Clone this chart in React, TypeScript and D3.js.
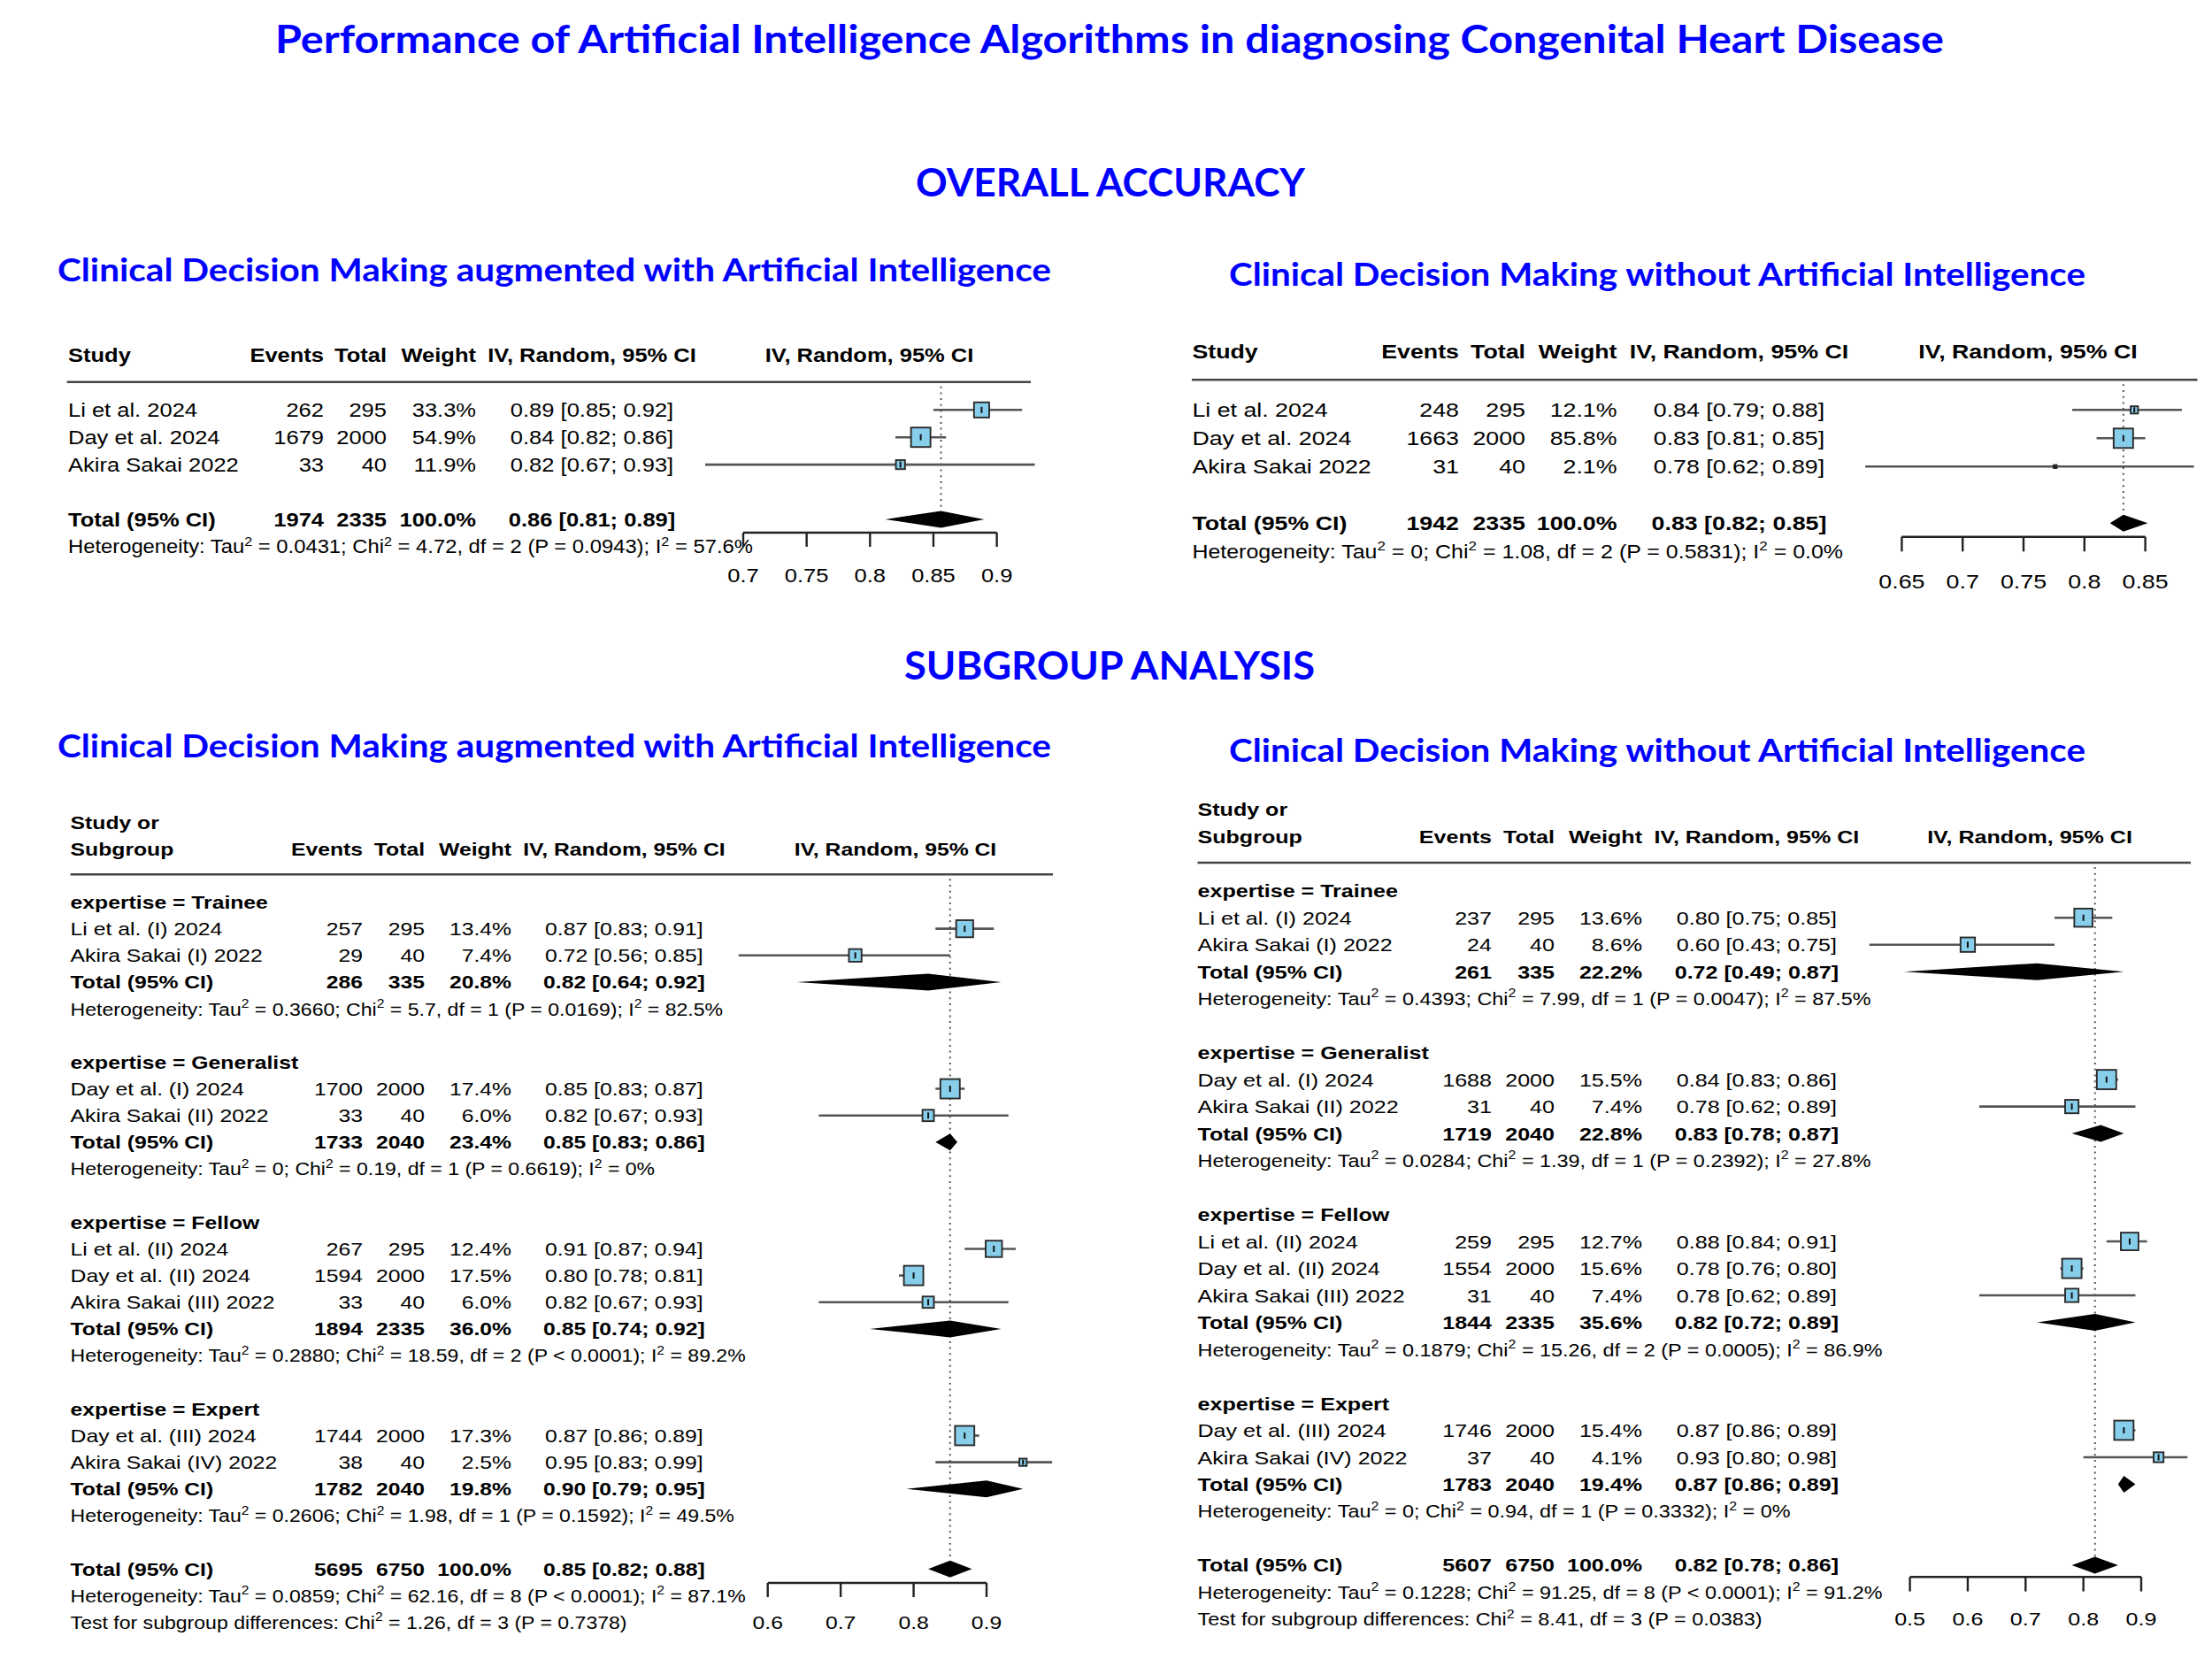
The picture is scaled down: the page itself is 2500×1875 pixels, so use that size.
import React from 'react';
import * as d3 from 'd3';

const W = 2500;
const H = 1875;
const BLUE = '#0000FF';
const TABLE_FONT = '"Liberation Sans", Arial, Helvetica, sans-serif';
const TITLE_FONT = 'Lato, "Open Sans", sans-serif';
const SX = 1.2; // the R plots were pasted in horizontally stretched
const SX_HET = 1.12; // heterogeneity lines come out a little narrower

// ---------- overall accuracy: with AI (A) and without AI (B)
const overallStudies = ['Li et al. 2024', 'Day et al. 2024', 'Akira Sakai 2022'];
const aEvents = [262, 1679, 33];
const aTotal = [295, 2000, 40];
const aWeight = [33.3, 54.9, 11.9];
const aEst = [0.888, 0.84, 0.824];
const aLo = [0.85, 0.82, 0.67];
const aHi = [0.92, 0.86, 0.93];

const bEvents = [248, 1663, 31];
const bTotal = [295, 2000, 40];
const bWeight = [12.1, 85.8, 2.1];
const bEst = [0.841, 0.832, 0.776];
const bLo = [0.79, 0.81, 0.62];
const bHi = [0.88, 0.85, 0.89];

// ---------- subgroup analysis: with AI (C) and without AI (D)
const expertise = ['Trainee', 'Generalist', 'Fellow', 'Expert'];
const subStudies = [
  'Li et al. (I) 2024', 'Akira Sakai (I) 2022',
  'Day et al. (I) 2024', 'Akira Sakai (II) 2022',
  'Li et al. (II) 2024', 'Day et al. (II) 2024', 'Akira Sakai (III) 2022',
  'Day et al. (III) 2024', 'Akira Sakai (IV) 2022',
];
const subGroupOf = [0, 0, 1, 1, 2, 2, 2, 3, 3];

const cEvents = [257, 29, 1700, 33, 267, 1594, 33, 1744, 38];
const cTotal = [295, 40, 2000, 40, 295, 2000, 40, 2000, 40];
const cWeight = [13.4, 7.4, 17.4, 6.0, 12.4, 17.5, 6.0, 17.3, 2.5];
const cEst = [0.87, 0.72, 0.85, 0.82, 0.91, 0.8, 0.82, 0.87, 0.95];
const cLo = [0.83, 0.56, 0.83, 0.67, 0.87, 0.78, 0.67, 0.86, 0.83];
const cHi = [0.91, 0.85, 0.87, 0.93, 0.94, 0.81, 0.93, 0.89, 0.99];
const cGrpEvents = [286, 1733, 1894, 1782];
const cGrpTotal = [335, 2040, 2335, 2040];
const cGrpWeight = [20.8, 23.4, 36.0, 19.8];
const cGrpEst = [0.82, 0.85, 0.85, 0.9];
const cGrpLo = [0.64, 0.83, 0.74, 0.79];
const cGrpHi = [0.92, 0.86, 0.92, 0.95];
const cGrpTau = ['0.3660', '0', '0.2880', '0.2606'];
const cGrpChi = ['5.7', '0.19', '18.59', '1.98'];
const cGrpDf = [1, 1, 2, 1];
const cGrpP = ['= 0.0169', '= 0.6619', '< 0.0001', '= 0.1592'];
const cGrpI2 = ['82.5%', '0%', '89.2%', '49.5%'];

const dEvents = [237, 24, 1688, 31, 259, 1554, 31, 1746, 37];
const dTotal = [295, 40, 2000, 40, 295, 2000, 40, 2000, 40];
const dWeight = [13.6, 8.6, 15.5, 7.4, 12.7, 15.6, 7.4, 15.4, 4.1];
const dEst = [0.8, 0.6, 0.84, 0.78, 0.88, 0.78, 0.78, 0.87, 0.93];
const dLo = [0.75, 0.43, 0.83, 0.62, 0.84, 0.76, 0.62, 0.86, 0.8];
const dHi = [0.85, 0.75, 0.86, 0.89, 0.91, 0.8, 0.89, 0.89, 0.98];
const dGrpEvents = [261, 1719, 1844, 1783];
const dGrpTotal = [335, 2040, 2335, 2040];
const dGrpWeight = [22.2, 22.8, 35.6, 19.4];
const dGrpEst = [0.72, 0.83, 0.82, 0.87];
const dGrpLo = [0.49, 0.78, 0.72, 0.86];
const dGrpHi = [0.87, 0.87, 0.89, 0.89];
const dGrpTau = ['0.4393', '0.0284', '0.1879', '0'];
const dGrpChi = ['7.99', '1.39', '15.26', '0.94'];
const dGrpDf = [1, 1, 2, 1];
const dGrpP = ['= 0.0047', '= 0.2392', '= 0.0005', '= 0.3332'];
const dGrpI2 = ['87.5%', '27.8%', '86.9%', '0%'];

// ---------- pooled results, panels A, B, C, D
const pooledEvents = [1974, 1942, 5695, 5607];
const pooledTotal = [2335, 2335, 6750, 6750];
const pooledEst = [0.856, 0.832, 0.85, 0.82];
const pooledLo = [0.812, 0.821, 0.82, 0.78];
const pooledHi = [0.89, 0.852, 0.88, 0.86];
const pooledTau = ['0.0431', '0', '0.0859', '0.1228'];
const pooledChi = ['4.72', '1.08', '62.16', '91.25'];
const pooledDf = [2, 2, 8, 8];
const pooledP = ['= 0.0943', '= 0.5831', '< 0.0001', '< 0.0001'];
const pooledI2 = ['57.6%', '0.0%', '87.1%', '91.2%'];
// test for subgroup differences, panels C, D
const diffChi = ['1.26', '8.41'];
const diffDf = [3, 3];
const diffP = ['0.7378', '0.0383'];

const ticksA = [0.7, 0.75, 0.8, 0.85, 0.9];
const ticksB = [0.65, 0.7, 0.75, 0.8, 0.85];
const ticksC = [0.6, 0.7, 0.8, 0.9];
const ticksD = [0.5, 0.6, 0.7, 0.8, 0.9];

// ---------- layout of each panel (pixels)
const layoutA = {
  fs: 21.25, studyX: 77, eventsX: 366, totalX: 437, weightX: 538, ciX: 669, plotHeadX: 982.5,
  headY: [401], lineY: 431.7, lineX: [75.6, 1165], rowY0: 463.3, rowH: 30.9,
  xDomain: [0.7, 0.9], xRange: [840, 1126.6], axisY: 602, tickLen: 16, tickLabelY: 650,
};
const layoutB = {
  fs: 22.3, studyX: 1347.4, eventsX: 1649, totalX: 1724, weightX: 1827.5, ciX: 1965.5, plotHeadX: 2292,
  headY: [397], lineY: 429.3, lineX: [1347, 2483.5], rowY0: 463.3, rowH: 32,
  xDomain: [0.65, 0.85], xRange: [2149.4, 2424.6], axisY: 606.7, tickLen: 16.6, tickLabelY: 656.7,
};
const layoutC = {
  fs: 20.6, studyX: 79.6, eventsX: 410, totalX: 480, weightX: 578, ciX: 705.4, plotHeadX: 1012,
  headY: [929.3, 959.3], lineY: 988.3, lineX: [79.6, 1190], rowY0: 1019.5, rowH: 30.15,
  xDomain: [0.6, 0.9], xRange: [867.7, 1115], axisY: 1789, tickLen: 16, tickLabelY: 1834,
};
const layoutD = {
  fs: 20.9, studyX: 1353.5, eventsX: 1686, totalX: 1757, weightX: 1856, ciX: 1985.4, plotHeadX: 2294,
  headY: [914, 945], lineY: 975, lineX: [1353.5, 2476], rowY0: 1006.7, rowH: 30.49,
  xDomain: [0.5, 0.9], xRange: [2158.6, 2420], axisY: 1782.3, tickLen: 16.3, tickLabelY: 1829.8,
};

type Layout = typeof layoutA;
type Part = string | { sup: string };
type Row = {
  kind: 'study' | 'total' | 'group' | 'het' | 'test';
  r: number;
  label?: string;
  events?: number;
  total?: number;
  weight?: number;
  est?: number;
  lo?: number;
  hi?: number;
  parts?: Part[];
};

const hetParts = (tau: string, chi: string, df: number, p: string, i2: string): Part[] => [
  'Heterogeneity: Tau', { sup: '2' }, ` = ${tau}; Chi`, { sup: '2' },
  ` = ${chi}, df = ${df} (P ${p}); I`, { sup: '2' }, ` = ${i2}`,
];

function overallRows(p: number, ev: number[], tot: number[], wt: number[], est: number[], lo: number[], hi: number[]): Row[] {
  const rows: Row[] = overallStudies.map((s, i) => ({
    kind: 'study', r: i, label: s, events: ev[i], total: tot[i], weight: wt[i], est: est[i], lo: lo[i], hi: hi[i],
  }));
  rows.push({
    kind: 'total', r: 4, label: 'Total (95% CI)', events: pooledEvents[p], total: pooledTotal[p], weight: 100,
    est: pooledEst[p], lo: pooledLo[p], hi: pooledHi[p],
  });
  rows.push({ kind: 'het', r: 5, parts: hetParts(pooledTau[p], pooledChi[p], pooledDf[p], pooledP[p], pooledI2[p]) });
  return rows;
}

function subgroupRows(
  p: number, ev: number[], tot: number[], wt: number[], est: number[], lo: number[], hi: number[],
  gEv: number[], gTot: number[], gWt: number[], gEst: number[], gLo: number[], gHi: number[],
  gTau: string[], gChi: string[], gDf: number[], gP: string[], gI2: string[],
): Row[] {
  const rows: Row[] = [];
  let r = 0;
  expertise.forEach((g, gi) => {
    rows.push({ kind: 'group', r, label: `expertise = ${g}` });
    r += 1;
    subStudies.forEach((s, i) => {
      if (subGroupOf[i] !== gi) return;
      rows.push({ kind: 'study', r, label: s, events: ev[i], total: tot[i], weight: wt[i], est: est[i], lo: lo[i], hi: hi[i] });
      r += 1;
    });
    rows.push({ kind: 'total', r, label: 'Total (95% CI)', events: gEv[gi], total: gTot[gi], weight: gWt[gi], est: gEst[gi], lo: gLo[gi], hi: gHi[gi] });
    rows.push({ kind: 'het', r: r + 1, parts: hetParts(gTau[gi], gChi[gi], gDf[gi], gP[gi], gI2[gi]) });
    r += 3;
  });
  rows.push({
    kind: 'total', r, label: 'Total (95% CI)', events: pooledEvents[p], total: pooledTotal[p], weight: 100,
    est: pooledEst[p], lo: pooledLo[p], hi: pooledHi[p],
  });
  rows.push({ kind: 'het', r: r + 1, parts: hetParts(pooledTau[p], pooledChi[p], pooledDf[p], pooledP[p], pooledI2[p]) });
  const t = p - 2;
  rows.push({
    kind: 'test', r: r + 2,
    parts: ['Test for subgroup differences: Chi', { sup: '2' }, ` = ${diffChi[t]}, df = ${diffDf[t]} (P = ${diffP[t]})`],
  });
  return rows;
}

const T: React.FC<{ x: number; y: number; fs: number; anchor?: string; bold?: boolean; sx?: number; children: React.ReactNode }> = ({
  x, y, fs, anchor = 'start', bold = false, sx = SX, children,
}) => (
  <g transform={`translate(${x},${y + fs * 0.36}) scale(${sx},1)`}>
    <text
      fontSize={fs}
      fontFamily={TABLE_FONT}
      fontWeight={bold ? 'bold' : 'normal'}
      textAnchor={anchor}
      fill="#000"
    >
      {children}
    </text>
  </g>
);

function renderParts(parts: Part[], fs: number) {
  const lift = fs * 0.42;
  return parts.map((pt, i) => {
    if (typeof pt === 'string') {
      const prevSup = i > 0 && typeof parts[i - 1] !== 'string';
      return <tspan key={i} dy={prevSup ? lift : undefined}>{pt}</tspan>;
    }
    return <tspan key={i} dy={-lift} fontSize={fs * 0.68}>{pt.sup}</tspan>;
  });
}

const ForestPanel: React.FC<{ L: Layout; rows: Row[]; ticks: number[]; refVal: number; subgroup?: boolean }> = ({
  L, rows, ticks, refVal, subgroup = false,
}) => {
  const x = d3.scaleLinear().domain(L.xDomain).range(L.xRange);
  const studyRows = rows.filter((r) => r.kind === 'study');
  const maxW = d3.max(studyRows, (r) => r.weight as number) as number;
  const side = d3.scaleSqrt().domain([0, maxW]).range([0, 22]);
  const yOf = (r: number) => L.rowY0 + r * L.rowH;
  const fs = L.fs;
  const lastTotal = rows.filter((r) => r.kind === 'total').slice(-1)[0];
  const diamondH = 9.5;
  const line = d3.line();

  const headY = L.headY[L.headY.length - 1];
  return (
    <g>
      {/* header */}
      {subgroup ? (
        <>
          <T x={L.studyX} y={L.headY[0]} fs={fs} bold>Study or</T>
          <T x={L.studyX} y={headY} fs={fs} bold>Subgroup</T>
        </>
      ) : (
        <T x={L.studyX} y={headY} fs={fs} bold>Study</T>
      )}
      <T x={L.eventsX} y={headY} fs={fs} anchor="end" bold>Events</T>
      <T x={L.totalX} y={headY} fs={fs} anchor="end" bold>Total</T>
      <T x={L.weightX} y={headY} fs={fs} anchor="end" bold>Weight</T>
      <T x={L.ciX} y={headY} fs={fs} anchor="middle" bold>IV, Random, 95% CI</T>
      <T x={L.plotHeadX} y={headY} fs={fs} anchor="middle" bold>IV, Random, 95% CI</T>
      <line x1={L.lineX[0]} x2={L.lineX[1]} y1={L.lineY} y2={L.lineY} stroke="#444" strokeWidth={2.6} />

      {/* reference line at pooled estimate */}
      <line
        x1={x(refVal)} x2={x(refVal)} y1={L.lineY + 5} y2={yOf(lastTotal.r) - diamondH}
        stroke="#555" strokeWidth={2} strokeDasharray="2 4.7"
      />

      {rows.map((row, i) => {
        const y = yOf(row.r);
        if (row.kind === 'group') {
          return <T key={i} x={L.studyX} y={y} fs={fs} bold>{row.label}</T>;
        }
        if (row.kind === 'het' || row.kind === 'test') {
          return <T key={i} x={L.studyX} y={y} fs={fs} sx={SX_HET}>{renderParts(row.parts as Part[], fs)}</T>;
        }
        const bold = row.kind === 'total';
        const ci = `${(row.est as number).toFixed(2)} [${(row.lo as number).toFixed(2)}; ${(row.hi as number).toFixed(2)}]`;
        const cells = (
          <>
            <T x={L.studyX} y={y} fs={fs} bold={bold}>{row.label}</T>
            <T x={L.eventsX} y={y} fs={fs} anchor="end" bold={bold}>{row.events}</T>
            <T x={L.totalX} y={y} fs={fs} anchor="end" bold={bold}>{row.total}</T>
            <T x={L.weightX} y={y} fs={fs} anchor="end" bold={bold}>{`${(row.weight as number).toFixed(1)}%`}</T>
            <T x={L.ciX} y={y} fs={fs} anchor="middle" bold={bold}>{ci}</T>
          </>
        );
        if (row.kind === 'total') {
          const d = line([
            [x(row.lo as number), y], [x(row.est as number), y - diamondH],
            [x(row.hi as number), y], [x(row.est as number), y + diamondH],
          ]) + 'Z';
          return (
            <g key={i}>
              {cells}
              <path d={d} fill="#000" />
            </g>
          );
        }
        const s = side(row.weight as number);
        const cx = x(row.est as number);
        const tick = Math.min(7, s * 0.7);
        return (
          <g key={i}>
            {cells}
            <line x1={x(row.lo as number)} x2={x(row.hi as number)} y1={y} y2={y} stroke="#555" strokeWidth={2.6} />
            <rect x={cx - s / 2} y={y - s / 2} width={s} height={s} fill="#87CEEB" stroke="#2a2a2a" strokeWidth={1.9} />
            <line x1={cx} x2={cx} y1={y - tick / 2} y2={y + tick / 2} stroke="#111" strokeWidth={2} />
          </g>
        );
      })}

      {/* x axis */}
      <line x1={x(ticks[0])} x2={x(ticks[ticks.length - 1])} y1={L.axisY} y2={L.axisY} stroke="#222" strokeWidth={2.4} />
      {ticks.map((t) => (
        <g key={t}>
          <line x1={x(t)} x2={x(t)} y1={L.axisY} y2={L.axisY + L.tickLen} stroke="#222" strokeWidth={2.4} />
          <T x={x(t)} y={L.tickLabelY} fs={fs} anchor="middle">{String(t)}</T>
        </g>
      ))}
    </g>
  );
};

const titles = [
  { text: 'Performance of Artificial Intelligence Algorithms in diagnosing Congenital Heart Disease', x: 311, w: 1886, y: 60, fs: 44 },
  { text: 'OVERALL ACCURACY', x: 1035, w: 440, y: 221.5, fs: 44 },
  { text: 'Clinical Decision Making augmented with Artificial Intelligence', x: 65, w: 1123, y: 318, fs: 37 },
  { text: 'Clinical Decision Making without Artificial Intelligence', x: 1389, w: 968, y: 323, fs: 37 },
  { text: 'SUBGROUP ANALYSIS', x: 1022, w: 464, y: 768, fs: 44 },
  { text: 'Clinical Decision Making augmented with Artificial Intelligence', x: 65, w: 1123, y: 856, fs: 37 },
  { text: 'Clinical Decision Making without Artificial Intelligence', x: 1389, w: 968, y: 861, fs: 37 },
];

export default function App() {
  const rowsA = overallRows(0, aEvents, aTotal, aWeight, aEst, aLo, aHi);
  const rowsB = overallRows(1, bEvents, bTotal, bWeight, bEst, bLo, bHi);
  const rowsC = subgroupRows(2, cEvents, cTotal, cWeight, cEst, cLo, cHi,
    cGrpEvents, cGrpTotal, cGrpWeight, cGrpEst, cGrpLo, cGrpHi, cGrpTau, cGrpChi, cGrpDf, cGrpP, cGrpI2);
  const rowsD = subgroupRows(3, dEvents, dTotal, dWeight, dEst, dLo, dHi,
    dGrpEvents, dGrpTotal, dGrpWeight, dGrpEst, dGrpLo, dGrpHi, dGrpTau, dGrpChi, dGrpDf, dGrpP, dGrpI2);

  return (
    <svg width={W} height={H} viewBox={`0 0 ${W} ${H}`} style={{ position: 'absolute', left: 0, top: 0, background: '#fff' }}>
      <rect width={W} height={H} fill="#fff" />
      {titles.map((t, i) => (
        <text
          key={i} x={t.x} y={t.y} fontSize={t.fs} fontFamily={TITLE_FONT} fontWeight={700} fill={BLUE}
          textLength={t.w} lengthAdjust="spacingAndGlyphs"
        >
          {t.text}
        </text>
      ))}
      <ForestPanel L={layoutA} rows={rowsA} ticks={ticksA} refVal={pooledEst[0]} />
      <ForestPanel L={layoutB} rows={rowsB} ticks={ticksB} refVal={pooledEst[1]} />
      <ForestPanel L={layoutC} rows={rowsC} ticks={ticksC} refVal={pooledEst[2]} subgroup />
      <ForestPanel L={layoutD} rows={rowsD} ticks={ticksD} refVal={pooledEst[3]} subgroup />
    </svg>
  );
}
